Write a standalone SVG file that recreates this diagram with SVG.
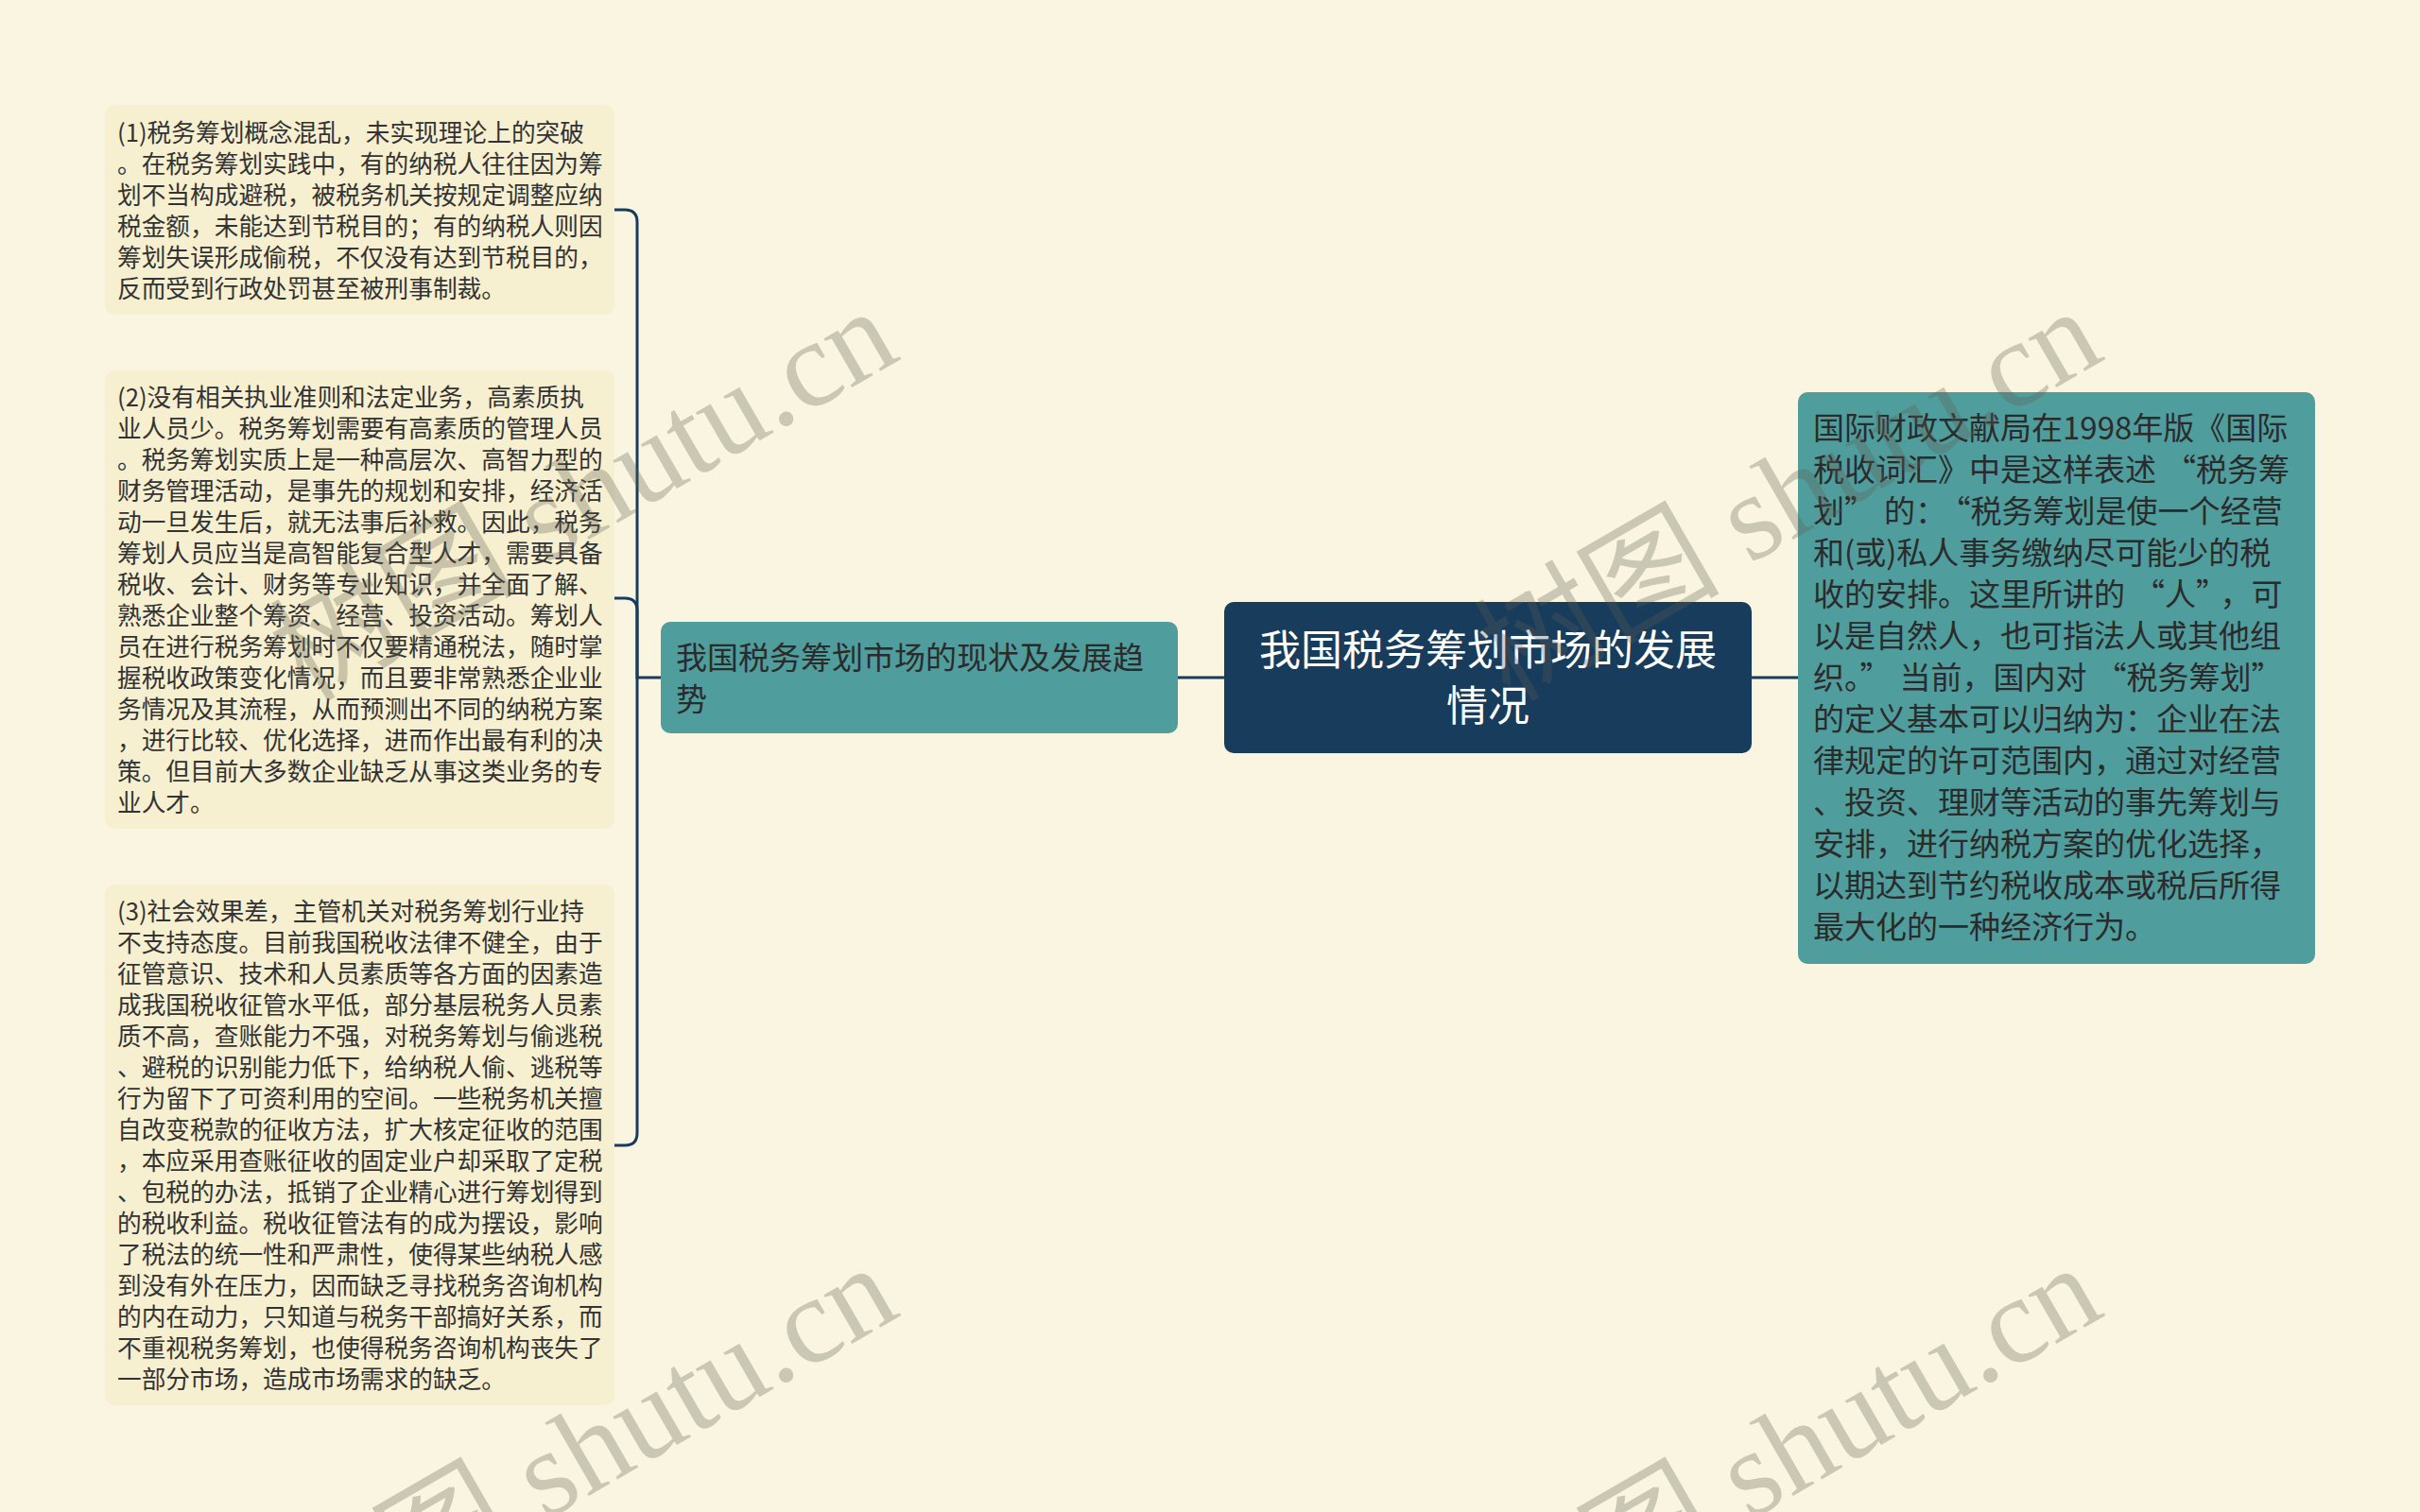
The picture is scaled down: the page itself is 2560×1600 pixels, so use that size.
<svg xmlns="http://www.w3.org/2000/svg" width="2560" height="1600" viewBox="0 0 2560 1600">
<style>
.leaf rect{fill:#f6efd0}
.leaf text{font-family:"Noto Sans CJK SC","Noto Sans",sans-serif;font-size:25.7px;fill:#333333}
.sub rect{fill:#4f9d9d}
.sub text{font-family:"Noto Sans CJK SC","Noto Sans",sans-serif;font-size:33px;fill:#2b2b2b}
.root rect{fill:#173c5c}
.root text{font-family:"Noto Sans CJK SC","Noto Sans",sans-serif;font-size:44px;fill:#ffffff;text-anchor:middle}
.conn path{fill:none;stroke:#173c5c;stroke-width:3}
.wm text{font-family:"Liberation Serif","Noto Sans CJK SC",serif;font-size:130px;fill:#5f5e4e;fill-opacity:0.3;text-anchor:end}
</style>
<rect x="0" y="0" width="2560" height="1600" fill="#faf5e1"/>
<g id="connectors" class="conn">
<path d="M1295 717 H1246"/>
<path d="M1853 717 H1902"/>
<path d="M699 717 H674 V235 Q674 222 661 222 H650"/>
<path d="M674 717 V646 Q674 633 661 633 H650"/>
<path d="M674 717 V1199 Q674 1212 661 1212 H650"/>
</g>
<g id="root" class="root">
<rect x="1295" y="637" width="558" height="160" rx="10"/>
<text x="1574" y="704">我国税务筹划市场的发展</text>
<text x="1574" y="763">情况</text>
</g>
<g id="sub" class="sub">
<rect x="699" y="658" width="547" height="118" rx="10"/>
<text x="715" y="708">我国税务筹划市场的现状及发展趋</text>
<text x="715" y="752">势</text>
</g>
<g id="def" class="sub">
<rect x="1902" y="415" width="547" height="605" rx="10"/>
<text x="1918" y="465">国际财政文献局在1998年版《国际</text>
<text x="1918" y="509">税收词汇》中是这样表述<tspan dx="9">“</tspan>税务筹</text>
<text x="1918" y="553">划”<tspan dx="9">的：</tspan><tspan dx="9">“</tspan>税务筹划是使一个经营</text>
<text x="1918" y="597">和(或)私人事务缴纳尽可能少的税</text>
<text x="1918" y="641">收的安排。这里所讲的<tspan dx="9">“</tspan>人”<tspan dx="9">，可</tspan></text>
<text x="1918" y="685">以是自然人，也可指法人或其他组</text>
<text x="1918" y="729">织。”<tspan dx="9">当前，国内对</tspan><tspan dx="9">“</tspan>税务筹划”</text>
<text x="1918" y="773">的定义基本可以归纳为：企业在法</text>
<text x="1918" y="817">律规定的许可范围内，通过对经营</text>
<text x="1918" y="861">、投资、理财等活动的事先筹划与</text>
<text x="1918" y="905">安排，进行纳税方案的优化选择，</text>
<text x="1918" y="949">以期达到节约税收成本或税后所得</text>
<text x="1918" y="993">最大化的一种经济行为。</text>
</g>
<g id="leaf1" class="leaf">
<rect x="111" y="111" width="539" height="222" rx="10"/>
<text x="124" y="150">(1)税务筹划概念混乱，未实现理论上的突破</text>
<text x="124" y="183">。在税务筹划实践中，有的纳税人往往因为筹</text>
<text x="124" y="216">划不当构成避税，被税务机关按规定调整应纳</text>
<text x="124" y="249">税金额，未能达到节税目的；有的纳税人则因</text>
<text x="124" y="282">筹划失误形成偷税，不仅没有达到节税目的，</text>
<text x="124" y="315">反而受到行政处罚甚至被刑事制裁。</text>
</g>
<g id="leaf2" class="leaf">
<rect x="111" y="392" width="539" height="485" rx="10"/>
<text x="124" y="430">(2)没有相关执业准则和法定业务，高素质执</text>
<text x="124" y="463">业人员少。税务筹划需要有高素质的管理人员</text>
<text x="124" y="496">。税务筹划实质上是一种高层次、高智力型的</text>
<text x="124" y="529">财务管理活动，是事先的规划和安排，经济活</text>
<text x="124" y="562">动一旦发生后，就无法事后补救。因此，税务</text>
<text x="124" y="595">筹划人员应当是高智能复合型人才，需要具备</text>
<text x="124" y="628">税收、会计、财务等专业知识，并全面了解、</text>
<text x="124" y="661">熟悉企业整个筹资、经营、投资活动。筹划人</text>
<text x="124" y="694">员在进行税务筹划时不仅要精通税法，随时掌</text>
<text x="124" y="727">握税收政策变化情况，而且要非常熟悉企业业</text>
<text x="124" y="760">务情况及其流程，从而预测出不同的纳税方案</text>
<text x="124" y="793">，进行比较、优化选择，进而作出最有利的决</text>
<text x="124" y="826">策。但目前大多数企业缺乏从事这类业务的专</text>
<text x="124" y="859">业人才。</text>
</g>
<g id="leaf3" class="leaf">
<rect x="111" y="936" width="539" height="551" rx="10"/>
<text x="124" y="974">(3)社会效果差，主管机关对税务筹划行业持</text>
<text x="124" y="1007">不支持态度。目前我国税收法律不健全，由于</text>
<text x="124" y="1040">征管意识、技术和人员素质等各方面的因素造</text>
<text x="124" y="1073">成我国税收征管水平低，部分基层税务人员素</text>
<text x="124" y="1106">质不高，查账能力不强，对税务筹划与偷逃税</text>
<text x="124" y="1139">、避税的识别能力低下，给纳税人偷、逃税等</text>
<text x="124" y="1172">行为留下了可资利用的空间。一些税务机关擅</text>
<text x="124" y="1205">自改变税款的征收方法，扩大核定征收的范围</text>
<text x="124" y="1238">，本应采用查账征收的固定业户却采取了定税</text>
<text x="124" y="1271">、包税的办法，抵销了企业精心进行筹划得到</text>
<text x="124" y="1304">的税收利益。税收征管法有的成为摆设，影响</text>
<text x="124" y="1337">了税法的统一性和严肃性，使得某些纳税人感</text>
<text x="124" y="1370">到没有外在压力，因而缺乏寻找税务咨询机构</text>
<text x="124" y="1403">的内在动力，只知道与税务干部搞好关系，而</text>
<text x="124" y="1436">不重视税务筹划，也使得税务咨询机构丧失了</text>
<text x="124" y="1469">一部分市场，造成市场需求的缺乏。</text>
</g>
<g id="watermark" class="wm">
<text transform="translate(955 379) rotate(-30)">树图 shutu.cn</text>
<text transform="translate(2229 379) rotate(-30)">树图 shutu.cn</text>
<text transform="translate(955 1391) rotate(-30)">树图 shutu.cn</text>
<text transform="translate(2229 1391) rotate(-30)">树图 shutu.cn</text>
</g>
</svg>
